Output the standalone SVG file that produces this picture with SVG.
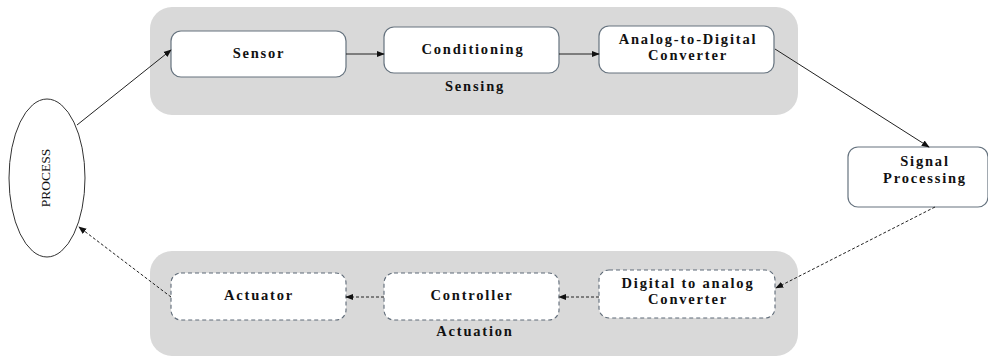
<svg xmlns="http://www.w3.org/2000/svg" width="988" height="360" viewBox="0 0 988 360">
<defs>
<marker id="ah" viewBox="0 0 10 10" refX="9" refY="5" markerWidth="8" markerHeight="8" markerUnits="userSpaceOnUse" orient="auto">
<path d="M0,1 L10,5 L0,9 Z" fill="#111"/>
</marker>
</defs>
<style>
.grp{fill:#d9d9d9;stroke:none}
.box{fill:#fff;stroke:#66737f;stroke-width:1.2}
.dbox{fill:#fff;stroke:#5f6b78;stroke-width:1.1;stroke-dasharray:4 3}
.t{font-family:"Liberation Serif","Times New Roman",serif;font-weight:bold;font-size:14.5px;letter-spacing:1.8px;fill:#111;text-anchor:middle}
.c{stroke:#222;stroke-width:1;fill:none;marker-end:url(#ah)}
.d{stroke-dasharray:3 2}
</style>
<g id="sensing-group">
<rect class="grp" x="150" y="7" width="648" height="108" rx="22"/>
<text class="t" x="475" y="91">Sensing</text>
</g>
<g id="actuation-group">
<rect class="grp" x="150" y="251" width="648" height="105" rx="22"/>
<text class="t" x="475" y="336">Actuation</text>
</g>
<g id="process">
<ellipse cx="47" cy="178" rx="38" ry="79" fill="#fff" stroke="#333" stroke-width="1"/>
<text x="45" y="178" transform="rotate(-90 45 178)" font-family="Liberation Serif,'Times New Roman',serif" font-size="13.5" text-anchor="middle" dominant-baseline="central" fill="#111">PROCESS</text>
</g>
<g id="sensor">
<rect class="box" x="171" y="31" width="175" height="46" rx="10"/>
<text class="t" x="259" y="58">Sensor</text>
</g>
<g id="conditioning">
<rect class="box" x="384" y="27" width="175" height="46" rx="10"/>
<text class="t" x="473" y="54">Conditioning</text>
</g>
<g id="adc">
<rect class="box" x="599" y="26" width="175" height="47" rx="10"/>
<text class="t" x="688" y="44">Analog-to-Digital</text>
<text class="t" x="688" y="60">Converter</text>
</g>
<g id="signal-processing">
<rect class="box" x="848" y="147" width="140" height="60" rx="10"/>
<text class="t" x="925" y="166">Signal</text>
<text class="t" x="925" y="183">Processing</text>
</g>
<g id="dac">
<rect class="dbox" x="599" y="270" width="176" height="48" rx="10"/>
<text class="t" x="688" y="288">Digital to analog</text>
<text class="t" x="688" y="304">Converter</text>
</g>
<g id="controller">
<rect class="dbox" x="384" y="273" width="175" height="47" rx="10"/>
<text class="t" x="472" y="300">Controller</text>
</g>
<g id="actuator">
<rect class="dbox" x="171" y="273" width="175" height="47" rx="10"/>
<text class="t" x="259" y="300">Actuator</text>
</g>
<g id="connectors">
<line class="c" x1="77" y1="125" x2="171" y2="50"/>
<line class="c" x1="346" y1="54" x2="384" y2="54"/>
<line class="c" x1="559" y1="54" x2="599" y2="54"/>
<line class="c" x1="775" y1="49" x2="929" y2="147"/>
<line class="c d" x1="935" y1="207" x2="776" y2="288"/>
<line class="c d" x1="599" y1="297" x2="559" y2="297"/>
<line class="c d" x1="384" y1="297" x2="346" y2="297"/>
<line class="c d" x1="171" y1="297" x2="79" y2="227"/>
</g>
</svg>
